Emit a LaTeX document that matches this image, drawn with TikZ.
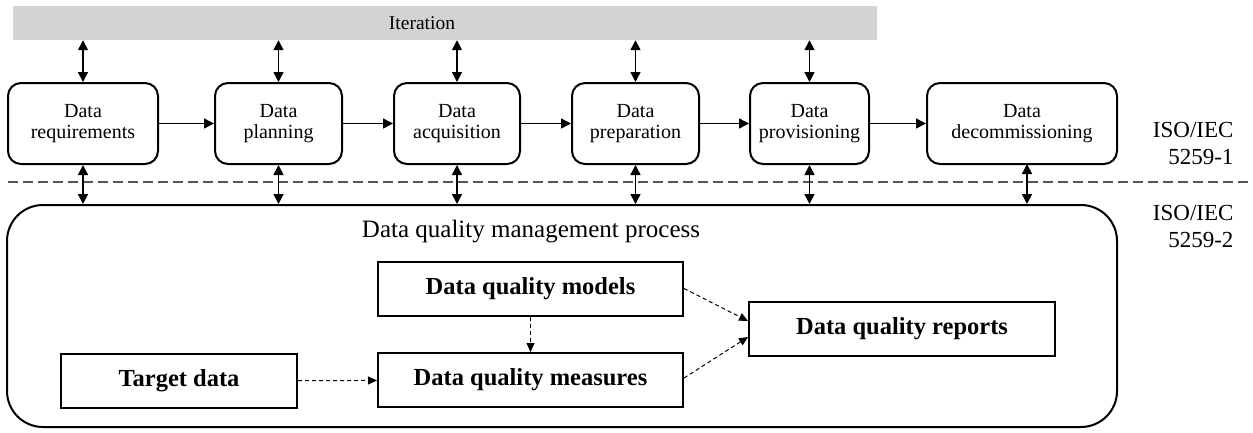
\documentclass[tikz,border=0pt]{standalone}
\usepackage{fontspec}
\setmainfont{Liberation Serif}
\usetikzlibrary{arrows.meta}
\definecolor{barfill}{RGB}{211,211,212}
\definecolor{sepgray}{RGB}{85,85,85}

\tikzset{
    stage/.style={draw, line width=2pt, rounded corners=13pt, align=center, inner sep=0pt,
        minimum height=81pt, font=\fontsize{20}{21}\selectfont},
    dqbox/.style={draw, line width=2pt, inner sep=0pt, minimum height=54pt,
        font=\fontsize{24.5}{28}\selectfont\bfseries},
    flow/.style={line width=1.5pt, -{Triangle[length=10pt,width=10pt]}},
    twoway/.style={line width=1.5pt, {Triangle[length=10pt,width=10pt]}-{Triangle[length=10pt,width=10pt]}},
    dflow/.style={line width=1pt, dash pattern=on 4pt off 3pt, -{Triangle[length=9pt,width=8pt]}},
    isolabel/.style={align=right, font=\fontsize{23}{27}\selectfont},
}

\begin{document}
\begin{tikzpicture}[x=1pt, y=-1pt]
    \useasboundingbox (0,0) rectangle (1253,432);

    % iteration bar
    \node[fill=barfill, minimum width=864pt, minimum height=34pt, inner sep=0pt,
        label={[font=\fontsize{19.5}{21}\selectfont, xshift=-23pt]center:Iteration}] (iter) at (445,23) {};

    % life cycle stages
    \node[stage, minimum width=150pt] (req)  at (83,123.5)    {Data\\requirements};
    \node[stage, minimum width=127pt] (plan) at (278.5,123.5) {Data\\planning};
    \node[stage, minimum width=126pt] (acq)  at (457,123.5)   {Data\\acquisition};
    \node[stage, minimum width=127pt] (prep) at (635.5,123.5) {Data\\preparation};
    \node[stage, minimum width=119pt] (prov) at (809.5,123.5) {Data\\provisioning};
    \node[stage, minimum width=190pt] (dec)  at (1022,123.5)  {Data\\decommissioning};

    \draw[flow] (req) -- (plan);
    \draw[flow] (plan) -- (acq);
    \draw[flow] (acq) -- (prep);
    \draw[flow] (prep) -- (prov);
    \draw[flow] (prov) -- (dec);

    \foreach \s in {req,plan,acq,prep,prov}
        \draw[twoway] (\s.north |- iter.south) -- (\s.north);

    % separator
    \coordinate (sepL) at (8,182);
    \coordinate (sepR) at (1253,182);
    \draw[sepgray, line width=1.5pt, dash pattern=on 10pt off 5pt] (sepL) -- (sepR);

    \node[isolabel, anchor=east] (iso1) at (1237,143.5) {ISO/IEC\\5259-1};
    \node[isolabel, anchor=east] (iso2) at (1237,226)   {ISO/IEC\\5259-2};

    % data quality management process
    \node[draw, line width=2pt, rounded corners=36pt, minimum width=1110pt, minimum height=222pt,
        inner sep=0pt] (dqm) at (562,316) {};
    \node[font=\fontsize{25}{28}\selectfont] (dqmtitle) at (531,232) {Data quality management process};

    \foreach \s in {req,plan,acq,prep,prov}
        \draw[twoway] (\s.south) -- (\s.south |- dqm.north);
    \coordinate (decdown) at (1027,164);
    \draw[twoway] (decdown) -- (decdown |- dqm.north);

    \node[dqbox, minimum width=305pt] (models)   at (530.5,288.5) {Data quality models};
    \node[dqbox, minimum width=305pt] (measures) at (530.5,380)   {Data quality measures};
    \node[dqbox, minimum width=236pt] (target)   at (179,381)     {Target data};
    \node[dqbox, minimum width=306pt] (reports)  at (902,329)     {Data quality reports};

    \draw[dflow] (target) -- (measures);
    \draw[dflow] (models) -- (measures);
    \draw[dflow] (models.east) -- ([yshift=8pt]reports.west);
    \draw[dflow] ([yshift=2pt]measures.east) -- ([yshift=-8pt]reports.west);

\end{tikzpicture}
\end{document}
